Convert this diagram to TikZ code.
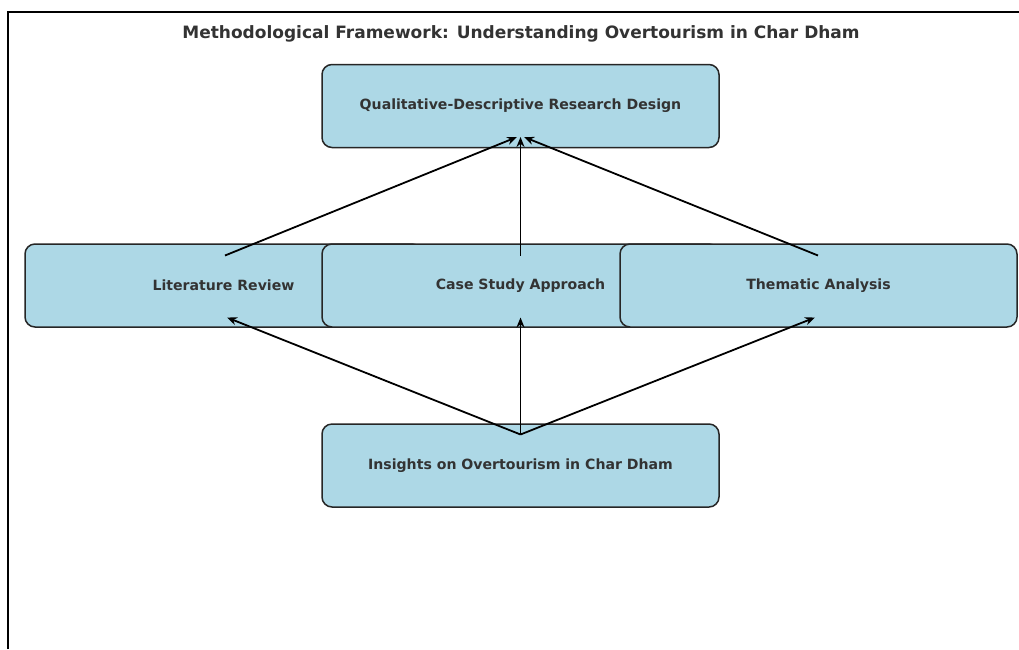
\documentclass[tikz,border=0pt]{standalone}
\usepackage{fontspec}
\setmainfont{DejaVu Sans}
\usetikzlibrary{arrows.meta,calc}
\definecolor{boxfill}{HTML}{ADD8E6}
\definecolor{txtgray}{HTML}{333333}
\begin{document}
\begin{tikzpicture}[x=1pt,y=-1pt,
  stagebox/.style={rectangle, rounded corners=10pt, fill=boxfill, draw=black!85, line width=1.5pt,
    minimum width=397pt, minimum height=83pt, inner sep=0pt,
    font=\bfseries\fontsize{14.1}{16}\selectfont, text=txtgray},
  flow/.style={line width=1.8pt, -{Stealth[length=10pt,width=8pt]}},
  titletext/.style={font=\bfseries\fontsize{17}{20}\selectfont, text=txtgray, inner sep=0pt}]
\useasboundingbox (0,0) rectangle (1019,649);
\fill[white] (0,0) rectangle (1019,649);
\draw[line width=1.6pt] (8,649) -- (8,12) -- (1019,12);
\node[titletext] (title) at (521,34) {Methodological Framework: Understanding Overtourism in Char Dham};
\node[stagebox] (top) at (520.5,106) {Qualitative-Descriptive Research Design};
\node[stagebox] (lit) at (223.5,285.5) {Literature Review};
\node[stagebox] (case) at (520.5,285.5) {Case Study Approach};
\node[stagebox] (them) at (818.5,285.5) {Thematic Analysis};
\node[stagebox] (ins) at (520.5,465.5) {Insights on Overtourism in Char Dham};
\draw[flow] ($(lit.center)+(1.5,-30)$) -- ($(top.center)+(-3.5,31)$);
\draw[flow] ($(case.center)+(0,-30)$) -- ($(top.center)+(0,31)$);
\draw[flow] ($(them.center)+(-0.5,-30)$) -- ($(top.center)+(3.5,31)$);
\draw[flow] ($(ins.center)+(0,-31)$) -- ($(lit.center)+(3.5,32)$);
\draw[flow] ($(ins.center)+(0,-31)$) -- ($(case.center)+(0,32)$);
\draw[flow] ($(ins.center)+(0,-31)$) -- ($(them.center)+(-3.5,32)$);
\end{tikzpicture}
\end{document}
